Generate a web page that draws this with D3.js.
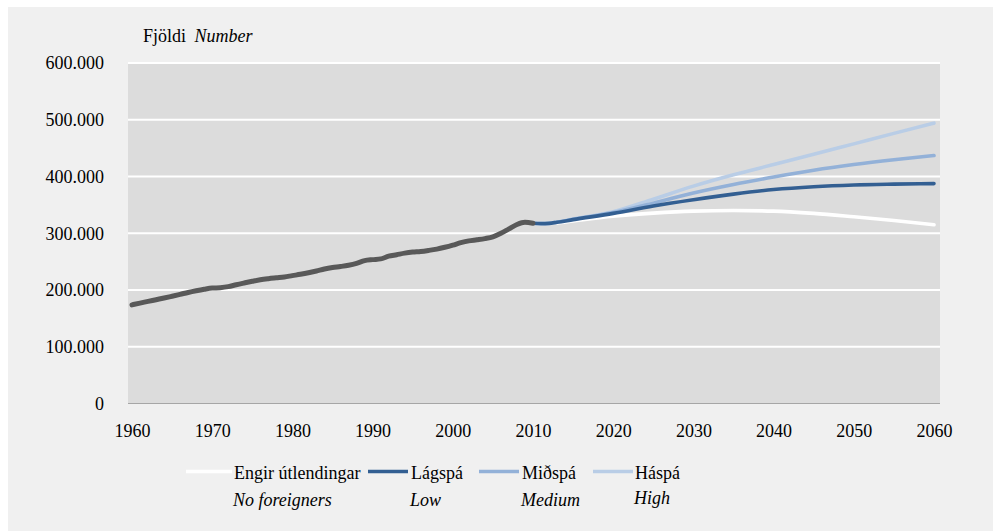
<!DOCTYPE html>
<html><head><meta charset="utf-8">
<script src="https://cdn.jsdelivr.net/npm/d3@7/dist/d3.min.js"></script>
<style>
body{margin:0;background:#fff;font-family:'Liberation Serif';}
svg{display:block;font-family:'Liberation Serif';}
text,tspan{font-family:'Liberation Serif' !important;}
</style>
</head><body>
<script>
// Historical population (1 January)
const histYears = [1960,1961,1962,1963,1964,1965,1966,1967,1968,1969,1970,1971,1972,1973,1974,1975,1976,1977,1978,1979,1980,1981,1982,1983,1984,1985,1986,1987,1988,1989,1990,1991,1992,1993,1994,1995,1996,1997,1998,1999,2000,2001,2002,2003,2004,2005,2006,2007,2008,2009,2010];
const histValues = [173855,176946,179873,182901,185877,189046,192288,195698,198675,201311,203442,204042,205886,209275,212363,215324,218031,219929,221470,222952,225328,227600,230274,233464,236946,239511,241403,243698,247024,251690,253500,254788,259577,262193,264922,266783,267806,269727,272064,275264,279049,283361,286575,288471,290570,293577,299891,307672,315459,319368,317630];

// Projections
const projYears = [2010,2011,2012,2013,2015,2020,2025,2030,2035,2040,2045,2050,2055,2060];
const noForeigners = [317630,317000,317200,318300,321800,330000,335500,339000,340000,339000,335000,329000,322500,315000];
const lowProj      = [317630,317000,317400,319300,324000,335000,348000,359000,369000,377000,382000,385000,386500,387500];
const mediumProj   = [317630,317000,317400,319400,324500,336500,353000,371000,386000,399000,411000,421000,429500,437000];
const highProj     = [317630,317000,317400,319500,325000,338000,360000,383000,403000,421000,439000,457500,476000,494000];

const xTicks = [1960,1970,1980,1990,2000,2010,2020,2030,2040,2050,2060];
const yTicks = [0,100000,200000,300000,400000,500000,600000];
const seriesNames = ["Engir útlendingar","Lágspá","Miðspá","Háspá"];
const seriesNamesEn = ["No foreigners","Low","Medium","High"];

const W = 998, H = 531;
const svg = d3.select("body").append("svg").attr("width", W).attr("height", H)
  .attr("font-family","Liberation Serif");

svg.append("rect").attr("x",8).attr("y",7).attr("width",985).attr("height",524).attr("fill","#f0f0f0");

const plotL = 128, plotR = 940, plotT = 63, plotB = 403.5;
svg.append("rect").attr("x",plotL).attr("y",plotT).attr("width",plotR-plotL).attr("height",plotB-plotT).attr("fill","#dcdcdc");

const x = d3.scaleLinear().domain([1960,2060]).range([132,934]);
const y = d3.scaleLinear().domain([0,600000]).range([plotB, plotT]);
const fmt = v => d3.format(",")(v).replace(/,/g,".");

// gridlines
svg.append("g").selectAll("line").data(yTicks.filter(d=>d>0)).join("line")
  .attr("x1",plotL).attr("x2",plotR).attr("y1",d=>y(d)).attr("y2",d=>y(d))
  .attr("stroke","#fff").attr("stroke-width",2);

// axis line
svg.append("line").attr("x1",plotL).attr("x2",plotR).attr("y1",plotB).attr("y2",plotB)
  .attr("stroke","#a6a6a6").attr("stroke-width",1);

// y labels
const yAxis = d3.axisLeft(y).tickValues(yTicks).tickFormat(fmt).tickSize(0).tickPadding(0);
const yg = svg.append("g").attr("transform","translate(104,0)").call(yAxis)
  .attr("font-family","Liberation Serif").attr("font-size",18);
yg.select(".domain").remove();
yg.selectAll("text").attr("fill","#000").attr("dy","0.33em");

// x labels
const xAxis = d3.axisBottom(x).tickValues(xTicks).tickFormat(d3.format("d")).tickSize(0).tickPadding(0);
const xg = svg.append("g").attr("transform","translate(0,424)").call(xAxis)
  .attr("font-family","Liberation Serif").attr("font-size",18);
xg.select(".domain").remove();
xg.selectAll("text").attr("fill","#000").attr("dy","0.71em");

// title
const t = svg.append("text").attr("x",143).attr("y",42).attr("font-size",18).attr("fill","#000");
t.append("tspan").text("Fjöldi ");
t.append("tspan").attr("font-style","italic").attr("dx",4).text("Number");

const line = d3.line().x(d=>x(d[0])).y(d=>y(d[1])).curve(d3.curveMonotoneX);

const colors = ["#ffffff","#335f92","#93b1d8","#b9cde6"];
const proj = [noForeigners, lowProj, mediumProj, highProj];
[3,2,0,1].forEach(i=>{
  svg.append("path").datum(projYears.map((yr,j)=>[yr,proj[i][j]]))
    .attr("d",line).attr("fill","none").attr("stroke",colors[i])
    .attr("stroke-width",3.6).attr("stroke-linecap","round");
});

svg.append("path").datum(histYears.map((yr,j)=>[yr,histValues[j]]))
  .attr("d",line).attr("fill","none").attr("stroke","#595959")
  .attr("stroke-width",5).attr("stroke-linecap","round").attr("stroke-linejoin","round");

// legend
const legX = [186,368,479,593];
const textX = [234,411,522,635];
const lg = svg.append("g").attr("font-size",18);
seriesNames.forEach((n,i)=>{
  lg.append("line").attr("x1",legX[i]).attr("x2",legX[i]+ (i===0?46:40)).attr("y1",471.5).attr("y2",471.5)
    .attr("stroke",colors[i]).attr("stroke-width",3.6);
  lg.append("text").attr("x",textX[i]).attr("y",479).text(n);
  lg.append("text").attr("x",textX[i]-1).attr("y",i===3?504:506)
    .attr("font-style","italic").text(seriesNamesEn[i]);
});
</script>
</body></html>
